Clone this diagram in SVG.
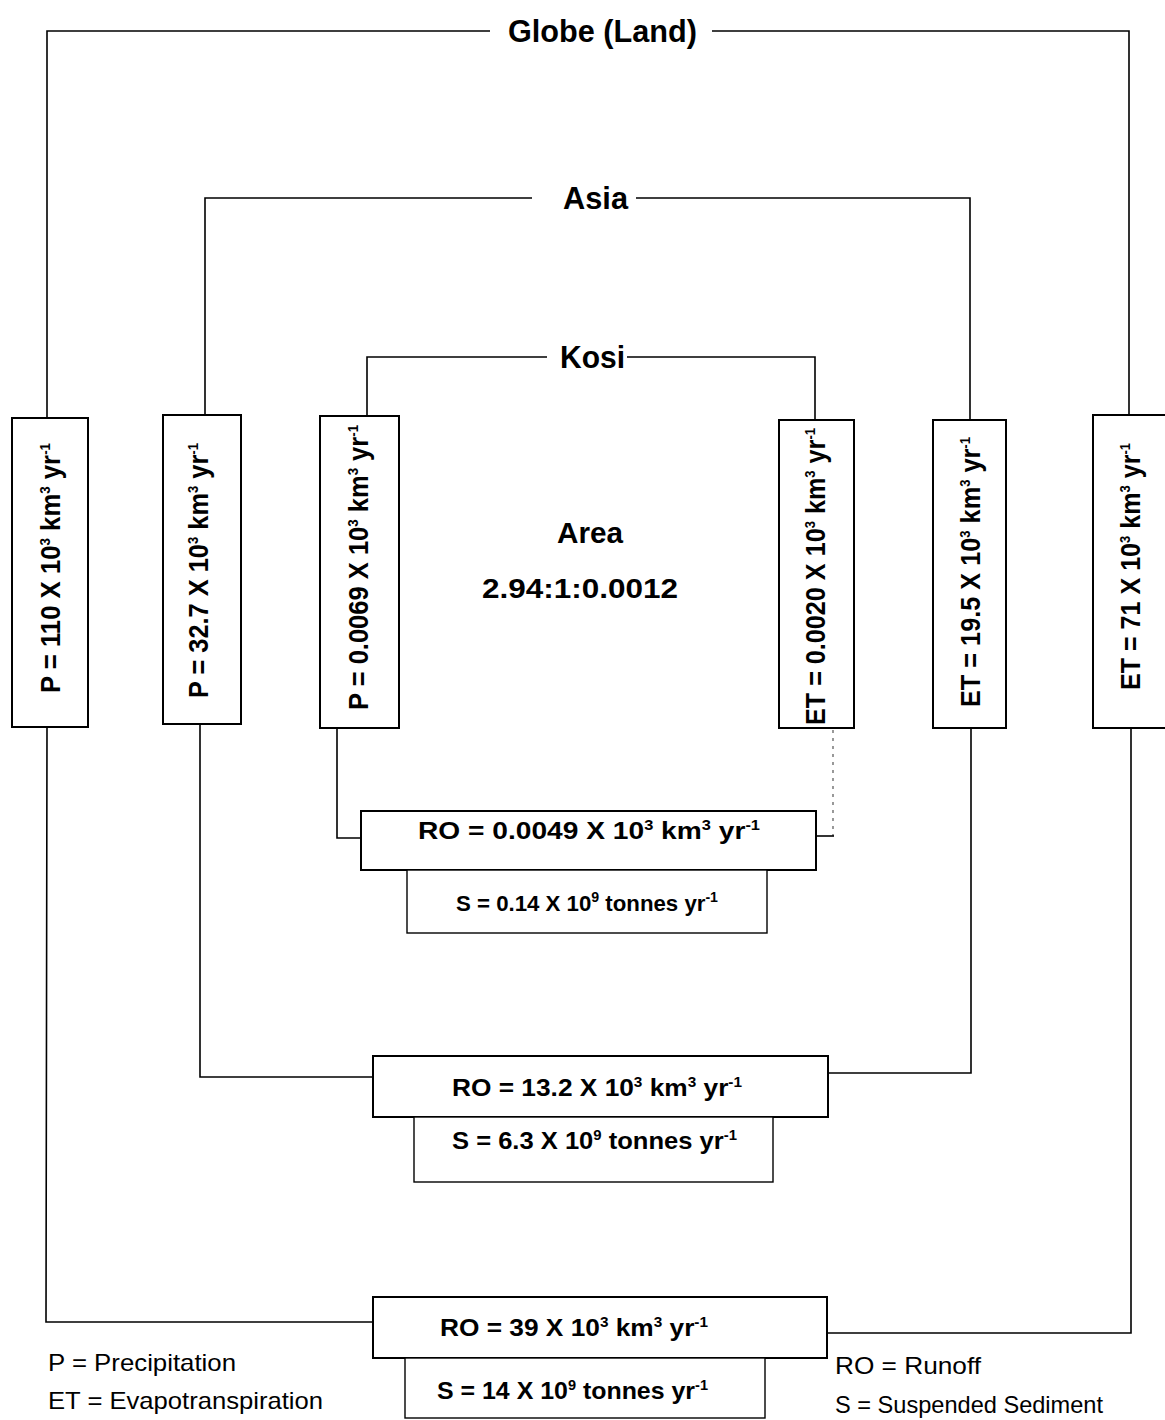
<svg xmlns="http://www.w3.org/2000/svg" width="1165" height="1420" viewBox="0 0 1165 1420">
<style>
.bg{fill:#fff}
.box{fill:#fff;stroke:#000;stroke-width:2}
.sbox{fill:#fff;stroke:#000;stroke-width:1.4}
.ln{fill:none;stroke:#000;stroke-width:1.6}
.faint{fill:none;stroke:#555;stroke-width:1.2;stroke-dasharray:3 5}
.t{font-family:"Liberation Sans",Arial,sans-serif;font-weight:bold;fill:#000}
.title{font-size:31px}
.v{font-size:27px}
.h{font-size:24px}
.hs{font-size:22px}
.sup{font-size:14px}
.leg{font-family:"Liberation Sans",Arial,sans-serif;font-size:24px;fill:#000}
</style>
<rect class="bg" x="0" y="0" width="1165" height="1420"/>

<g id="connectors">
  <!-- Globe -->
  <polyline class="ln" points="47,418 47,31 490,31"/>
  <polyline class="ln" points="712,31 1129,31 1129,415"/>
  <polyline class="ln" points="47,727 46,1322 373,1322"/>
  <polyline class="ln" points="1131,728 1131,1333 827,1333"/>
  <!-- Asia -->
  <polyline class="ln" points="205,415 205,198 532,198"/>
  <polyline class="ln" points="636,198 970,198 970,420"/>
  <polyline class="ln" points="200,724 200,1077 373,1077"/>
  <polyline class="ln" points="971,728 971,1073 828,1073"/>
  <!-- Kosi -->
  <polyline class="ln" points="367,416 367,357 547,357"/>
  <polyline class="ln" points="627,357 815,357 815,420"/>
  <polyline class="ln" points="337,728 337,838 361,838"/>
  <line class="faint" x1="833" y1="730" x2="833" y2="836"/>
  <line class="ln" x1="816" y1="836" x2="834" y2="836"/>
</g>

<g id="globe-title"><text class="t title" x="508" y="42" textLength="189" lengthAdjust="spacingAndGlyphs">Globe (Land)</text></g>
<g id="asia-title"><text class="t title" x="563" y="209" textLength="65" lengthAdjust="spacingAndGlyphs">Asia</text></g>
<g id="kosi-title"><text class="t title" x="560" y="368" textLength="65" lengthAdjust="spacingAndGlyphs">Kosi</text></g>

<g id="area">
  <text class="t" style="font-size:29px" x="590" y="543" text-anchor="middle" textLength="66" lengthAdjust="spacingAndGlyphs">Area</text>
  <text class="t" style="font-size:28px" x="580" y="598" text-anchor="middle" textLength="196" lengthAdjust="spacingAndGlyphs">2.94:1:0.0012</text>
</g>

<g id="globe-p">
  <rect class="box" x="12" y="418" width="76" height="309"/>
  <text class="t v" transform="translate(60,693) rotate(-90)" textLength="250" lengthAdjust="spacingAndGlyphs">P = 110 X 10<tspan class="sup" dy="-10">3</tspan><tspan dy="10"> km</tspan><tspan class="sup" dy="-10">3</tspan><tspan dy="10"> yr</tspan><tspan class="sup" dy="-10">-1</tspan></text>
</g>
<g id="asia-p">
  <rect class="box" x="163" y="415" width="78" height="309"/>
  <text class="t v" transform="translate(208,698) rotate(-90)" textLength="255" lengthAdjust="spacingAndGlyphs">P = 32.7 X 10<tspan class="sup" dy="-10">3</tspan><tspan dy="10"> km</tspan><tspan class="sup" dy="-10">3</tspan><tspan dy="10"> yr</tspan><tspan class="sup" dy="-10">-1</tspan></text>
</g>
<g id="kosi-p">
  <rect class="box" x="320" y="416" width="79" height="312"/>
  <text class="t v" transform="translate(368,710) rotate(-90)" textLength="285" lengthAdjust="spacingAndGlyphs">P = 0.0069 X 10<tspan class="sup" dy="-10">3</tspan><tspan dy="10"> km</tspan><tspan class="sup" dy="-10">3</tspan><tspan dy="10"> yr</tspan><tspan class="sup" dy="-10">-1</tspan></text>
</g>
<g id="kosi-et">
  <rect class="box" x="779" y="420" width="75" height="308"/>
  <text class="t v" transform="translate(825,725) rotate(-90)" textLength="297" lengthAdjust="spacingAndGlyphs">ET = 0.0020 X 10<tspan class="sup" dy="-10">3</tspan><tspan dy="10"> km</tspan><tspan class="sup" dy="-10">3</tspan><tspan dy="10"> yr</tspan><tspan class="sup" dy="-10">-1</tspan></text>
</g>
<g id="asia-et">
  <rect class="box" x="933" y="420" width="73" height="308"/>
  <text class="t v" transform="translate(980,707) rotate(-90)" textLength="270" lengthAdjust="spacingAndGlyphs">ET = 19.5 X 10<tspan class="sup" dy="-10">3</tspan><tspan dy="10"> km</tspan><tspan class="sup" dy="-10">3</tspan><tspan dy="10"> yr</tspan><tspan class="sup" dy="-10">-1</tspan></text>
</g>
<g id="globe-et">
  <rect class="box" x="1093" y="415" width="80" height="313"/>
  <text class="t v" transform="translate(1140,690) rotate(-90)" textLength="247" lengthAdjust="spacingAndGlyphs">ET = 71 X 10<tspan class="sup" dy="-10">3</tspan><tspan dy="10"> km</tspan><tspan class="sup" dy="-10">3</tspan><tspan dy="10"> yr</tspan><tspan class="sup" dy="-10">-1</tspan></text>
</g>

<g id="kosi-ro">
  <rect class="box" x="361" y="811" width="455" height="59"/>
  <text class="t h" x="418" y="839" textLength="342" lengthAdjust="spacingAndGlyphs">RO = 0.0049 X 10<tspan class="sup" dy="-9">3</tspan><tspan dy="9"> km</tspan><tspan class="sup" dy="-9">3</tspan><tspan dy="9"> yr</tspan><tspan class="sup" dy="-9">-1</tspan></text>
</g>
<g id="kosi-s">
  <rect class="sbox" x="407" y="870" width="360" height="63"/>
  <text class="t hs" x="456" y="911" textLength="262" lengthAdjust="spacingAndGlyphs">S = 0.14 X 10<tspan class="sup" dy="-9">9</tspan><tspan dy="9"> tonnes yr</tspan><tspan class="sup" dy="-9">-1</tspan></text>
</g>
<g id="asia-ro">
  <rect class="box" x="373" y="1056" width="455" height="61"/>
  <text class="t h" x="452" y="1096" textLength="290" lengthAdjust="spacingAndGlyphs">RO = 13.2 X 10<tspan class="sup" dy="-9">3</tspan><tspan dy="9"> km</tspan><tspan class="sup" dy="-9">3</tspan><tspan dy="9"> yr</tspan><tspan class="sup" dy="-9">-1</tspan></text>
</g>
<g id="asia-s">
  <rect class="sbox" x="414" y="1117" width="359" height="65"/>
  <text class="t h" x="452" y="1149" textLength="285" lengthAdjust="spacingAndGlyphs">S = 6.3 X 10<tspan class="sup" dy="-9">9</tspan><tspan dy="9"> tonnes yr</tspan><tspan class="sup" dy="-9">-1</tspan></text>
</g>
<g id="globe-ro">
  <rect class="box" x="373" y="1297" width="454" height="61"/>
  <text class="t h" x="440" y="1336" textLength="268" lengthAdjust="spacingAndGlyphs">RO = 39 X 10<tspan class="sup" dy="-9">3</tspan><tspan dy="9"> km</tspan><tspan class="sup" dy="-9">3</tspan><tspan dy="9"> yr</tspan><tspan class="sup" dy="-9">-1</tspan></text>
</g>
<g id="globe-s">
  <rect class="sbox" x="405" y="1358" width="360" height="60"/>
  <text class="t h" x="437" y="1399" textLength="271" lengthAdjust="spacingAndGlyphs">S = 14 X 10<tspan class="sup" dy="-9">9</tspan><tspan dy="9"> tonnes yr</tspan><tspan class="sup" dy="-9">-1</tspan></text>
</g>

<g id="legend">
  <text class="leg" x="48" y="1371" textLength="188" lengthAdjust="spacingAndGlyphs">P = Precipitation</text>
  <text class="leg" x="48" y="1409" textLength="275" lengthAdjust="spacingAndGlyphs">ET = Evapotranspiration</text>
  <text class="leg" x="835" y="1374" textLength="146" lengthAdjust="spacingAndGlyphs">RO = Runoff</text>
  <text class="leg" x="835" y="1413" textLength="268" lengthAdjust="spacingAndGlyphs">S = Suspended Sediment</text>
</g>
</svg>
